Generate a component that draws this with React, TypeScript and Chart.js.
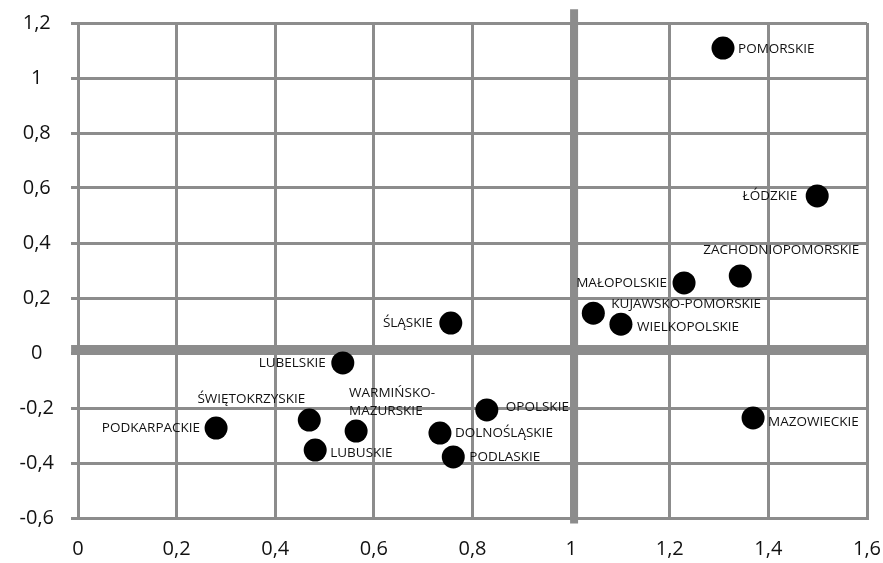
import { useEffect, useRef } from 'react';
import { Chart, registerables } from 'chart.js';

Chart.register(...registerables);

const REGIONS = [
  'POMORSKIE', 'ŁÓDZKIE', 'ZACHODNIOPOMORSKIE', 'MAŁOPOLSKIE', 'KUJAWSKO-POMORSKIE',
  'WIELKOPOLSKIE', 'ŚLĄSKIE', 'LUBELSKIE', 'ŚWIĘTOKRZYSKIE', 'PODKARPACKIE',
  'LUBUSKIE', 'WARMIŃSKO-\nMAZURSKIE', 'OPOLSKIE', 'DOLNOŚLĄSKIE', 'PODLASKIE', 'MAZOWIECKIE',
];
const X_VALUES = [1.308, 1.499, 1.343, 1.229, 1.045, 1.101, 0.756, 0.537, 0.469, 0.28, 0.481, 0.564, 0.829, 0.734, 0.761, 1.369];
const Y_VALUES = [1.109, 0.571, 0.28, 0.255, 0.145, 0.105, 0.109, -0.036, -0.244, -0.273, -0.353, -0.284, -0.207, -0.291, -0.378, -0.236];

// reference (quadrant) lines
const DIVIDER_X = 1.006;
const DIVIDER_X_SPAN = [-0.62, 1.25];
const DIVIDER_Y = 0.015;
const DIVIDER_Y_SPAN = [-0.014, 1.6];

const X_MIN = 0, X_MAX = 1.6, X_STEP = 0.2;
const Y_MIN = -0.6, Y_MAX = 1.2, Y_STEP = 0.2;

// label placement styling: [dx px, dy px, align]
const LABEL_LAYOUT: [number, number, CanvasTextAlign][] = [
  [15, 1, 'left'],
  [-20, 0, 'right'],
  [-37, -26, 'left'],
  [-17, 0, 'right'],
  [18, -9, 'left'],
  [16, 3, 'left'],
  [-18, 0, 'right'],
  [-17, 0, 'right'],
  [-4, -21, 'right'],
  [-16, 0, 'right'],
  [15, 3, 'left'],
  [-7, -38, 'left'],
  [19, -3, 'left'],
  [15, 0, 'left'],
  [16, 0, 'left'],
  [15, 4, 'left'],
];

const GRID = '#8c8c8c';
const fmt = (v: number) => String(Math.round(v * 10) / 10).replace('.', ',');

const labelPlugin = {
  id: 'pointLabels',
  afterDatasetsDraw(chart: any) {
    const meta = chart.getDatasetMeta(0);
    const ctx = chart.ctx;
    ctx.save();
    ctx.font = '13.5px "Open Sans"';
    ctx.fillStyle = '#111';
    ctx.textBaseline = 'middle';
    meta.data.forEach((el: any, i: number) => {
      const [dx, dy, align] = LABEL_LAYOUT[i];
      ctx.textAlign = align;
      REGIONS[i].split('\n').forEach((line, j) => {
        ctx.fillText(line, el.x + dx, el.y + dy + j * 18);
      });
    });
    ctx.restore();
  },
};

export default function App() {
  const ref = useRef<HTMLCanvasElement>(null);
  useEffect(() => {
    document.body.style.margin = '0';
    const chart = new Chart(ref.current!, {
      type: 'scatter',
      data: {
        datasets: [
          {
            type: 'scatter',
            data: X_VALUES.map((x, i) => ({ x, y: Y_VALUES[i] })),
            pointRadius: 11.5,
            pointBackgroundColor: '#000',
            pointBorderWidth: 0,
            order: 0,
          },
          {
            type: 'line',
            data: DIVIDER_X_SPAN.map((y) => ({ x: DIVIDER_X, y })),
            borderColor: GRID,
            borderWidth: 8,
            pointRadius: 0,
            clip: false,
            order: 2,
          } as any,
          {
            type: 'line',
            data: DIVIDER_Y_SPAN.map((x) => ({ x, y: DIVIDER_Y })),
            borderColor: GRID,
            borderWidth: 8,
            pointRadius: 0,
            clip: false,
            order: 2,
          } as any,
        ],
      },
      options: {
        animation: false,
        responsive: true,
        maintainAspectRatio: false,
        events: [],
        layout: { padding: { top: 23, right: 16, left: 0, bottom: 0 } },
        plugins: { legend: { display: false }, tooltip: { enabled: false } },
        scales: {
          x: {
            type: 'linear',
            min: X_MIN,
            max: X_MAX,
            afterFit: (s: any) => {
              s.height = 45;
              s.paddingLeft = 0;
              s.paddingRight = 0;
            },
            grid: { color: GRID, lineWidth: 3, drawTicks: false },
            border: { color: GRID, width: 3 },
            ticks: {
              stepSize: X_STEP,
              padding: 19,
              color: '#111',
              font: { family: '"Open Sans"', size: 20 },
              callback: (v: any) => fmt(Number(v)),
            },
          },
          y: {
            type: 'linear',
            min: Y_MIN,
            max: Y_MAX,
            afterFit: (s: any) => {
              s.width = 78;
              s.paddingTop = 0;
              s.paddingBottom = 0;
            },
            grid: { color: GRID, lineWidth: 3, drawTicks: true, tickLength: 7 },
            border: { color: GRID, width: 3 },
            ticks: {
              stepSize: Y_STEP,
              padding: 17,
              crossAlign: 'center',
              color: '#111',
              font: { family: '"Open Sans"', size: 20 },
              callback: (v: any) => fmt(Number(v)),
            },
          },
        },
      },
      plugins: [labelPlugin],
    });
    return () => chart.destroy();
  }, []);
  return (
    <div style={{ width: 883, height: 563, position: 'relative' }}>
      <canvas ref={ref} />
    </div>
  );
}
